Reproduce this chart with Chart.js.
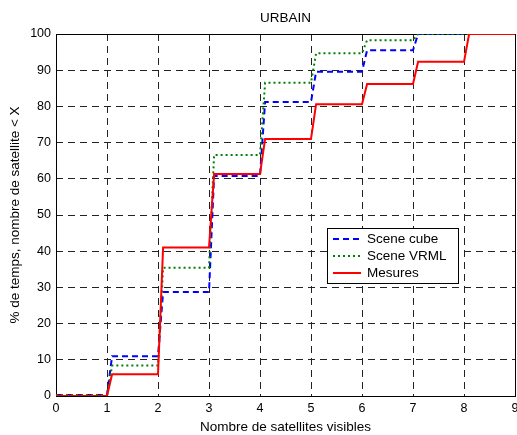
<!DOCTYPE html>
<html>
<head>
<meta charset="utf-8">
<script src="https://cdn.jsdelivr.net/npm/chart.js@4.4.1/dist/chart.umd.min.js"></script>
<style>
  html, body { margin: 0; padding: 0; background: #fff; }
  #wrap { width: 517px; height: 435px; position: relative; }
</style>
</head>
<body>
<div id="wrap"><canvas id="urbainChart"></canvas></div>
<script>
// Tick labels and step levels (one level per interval [k, k+1])
const xTicks = [0, 1, 2, 3, 4, 5, 6, 7, 8, 9];
const yTicks = [0, 10, 20, 30, 40, 50, 60, 70, 80, 90, 100];
const sceneCube = [0.3, 11.0, 28.7, 60.8, 81.2, 89.6, 95.5, 100, 100];
const sceneVRML = [0.3, 8.4, 35.4, 66.6, 86.5, 94.7, 98.3, 100, 100];
const mesures = [0, 6.0, 41.0, 61.3, 71.0, 80.6, 86.2, 92.3, 100];
const seriesLabels = ['Scene cube', 'Scene VRML', 'Mesures'];

// the original plot rises over a short slope after each integer
const RAMP = 0.1;
const FONT = "'Liberation Sans', Arial, sans-serif";
const TEXT_SIZE = 13.5;
const TICK_SIZE = 12.5;

function stepPoints(levels) {
    const pts = [{ x: xTicks[0], y: levels[0] }];
    for (let k = 1; k < levels.length; k++) {
        pts.push({ x: xTicks[k], y: levels[k - 1] });
        pts.push({ x: xTicks[k] + RAMP, y: levels[k] });
    }
    pts.push({ x: xTicks[xTicks.length - 1], y: levels[levels.length - 1] });
    return pts;
}

// box around the axes + title
const framePlugin = {
    id: 'frame',
    beforeDatasetsDraw(chart) {
        const { ctx, chartArea: a } = chart;
        ctx.save();
        ctx.strokeStyle = '#000';
        ctx.lineWidth = 1;
        ctx.strokeRect(Math.round(a.left) + 0.5, Math.round(a.top) + 0.5,
            Math.round(a.right - a.left), Math.round(a.bottom - a.top));
        ctx.fillStyle = '#000';
        ctx.font = TEXT_SIZE + 'px ' + FONT;
        ctx.textAlign = 'center';
        ctx.textBaseline = 'middle';
        ctx.fillText('URBAIN', (a.left + a.right) / 2, 18);
        ctx.restore();
    }
};

// MATLAB-like legend box
const legendPlugin = {
    id: 'matlabLegend',
    afterDraw(chart) {
        const { ctx } = chart;
        const x = 327, y = 228, w = 131, h = 55;
        ctx.save();
        ctx.fillStyle = '#fff';
        ctx.fillRect(x, y, w, h);
        ctx.strokeStyle = '#000';
        ctx.lineWidth = 1;
        ctx.strokeRect(x + 0.5, y + 0.5, w, h);
        ctx.font = TEXT_SIZE + 'px ' + FONT;
        ctx.textBaseline = 'middle';
        chart.data.datasets.forEach((ds, i) => {
            const ly = y + 11 + i * 17;
            ctx.strokeStyle = ds.borderColor;
            ctx.lineWidth = ds.borderWidth;
            ctx.setLineDash(ds.borderDash || []);
            ctx.beginPath();
            ctx.moveTo(x + 6, ly);
            ctx.lineTo(x + 34, ly);
            ctx.stroke();
            ctx.setLineDash([]);
            ctx.fillStyle = '#000';
            ctx.fillText(ds.label, x + 40, ly);
        });
        ctx.restore();
    }
};

const edgeColor = (min, max) => (c) =>
    (c.tick && (c.tick.value === min || c.tick.value === max)) ? 'rgba(0,0,0,0)' : '#222';

new Chart(document.getElementById('urbainChart'), {
    type: 'line',
    data: {
        datasets: [
            {
                label: seriesLabels[0],
                data: stepPoints(sceneCube),
                borderColor: '#0000ff',
                borderWidth: 2,
                borderDash: [6, 4],
                order: 3
            },
            {
                label: seriesLabels[1],
                data: stepPoints(sceneVRML),
                borderColor: '#008000',
                borderWidth: 2,
                borderDash: [2, 3],
                order: 2
            },
            {
                label: seriesLabels[2],
                data: stepPoints(mesures),
                borderColor: '#ff0000',
                borderWidth: 2,
                order: 1
            }
        ]
    },
    options: {
        responsive: true,
        maintainAspectRatio: false,
        animation: false,
        layout: { padding: { top: 34, right: 2, left: 0, bottom: 0 } },
        elements: {
            point: { radius: 0 },
            line: { tension: 0, fill: false }
        },
        plugins: {
            legend: { display: false },
            tooltip: { enabled: false }
        },
        scales: {
            x: {
                type: 'linear',
                min: xTicks[0],
                max: xTicks[xTicks.length - 1],
                afterBuildTicks: (scale) => { scale.ticks = xTicks.map(v => ({ value: v })); },
                afterFit: (scale) => { scale.height = 39; scale.paddingLeft = 0; scale.paddingRight = 0; },
                ticks: { color: '#000', font: { family: FONT, size: TICK_SIZE }, padding: 5, maxRotation: 0 },
                grid: { color: edgeColor(0, 9), drawTicks: false },
                border: { display: false, dash: [7, 5] },
                title: {
                    display: true,
                    text: 'Nombre de satellites visibles',
                    color: '#000',
                    font: { family: FONT, size: TEXT_SIZE },
                    padding: { top: 0, bottom: 0 }
                }
            },
            y: {
                type: 'linear',
                min: yTicks[0],
                max: yTicks[yTicks.length - 1],
                afterBuildTicks: (scale) => { scale.ticks = yTicks.map(v => ({ value: v })); },
                afterFit: (scale) => { scale.width = 56; },
                ticks: { color: '#000', font: { family: FONT, size: TICK_SIZE }, padding: 5 },
                grid: { color: edgeColor(0, 100), drawTicks: false },
                border: { display: false, dash: [7, 5] },
                title: {
                    display: true,
                    text: '% de temps, nombre de satellite < X',
                    color: '#000',
                    font: { family: FONT, size: TEXT_SIZE },
                    padding: { top: 7, bottom: 0 }
                }
            }
        }
    },
    plugins: [framePlugin, legendPlugin]
});
</script>
</body>
</html>
